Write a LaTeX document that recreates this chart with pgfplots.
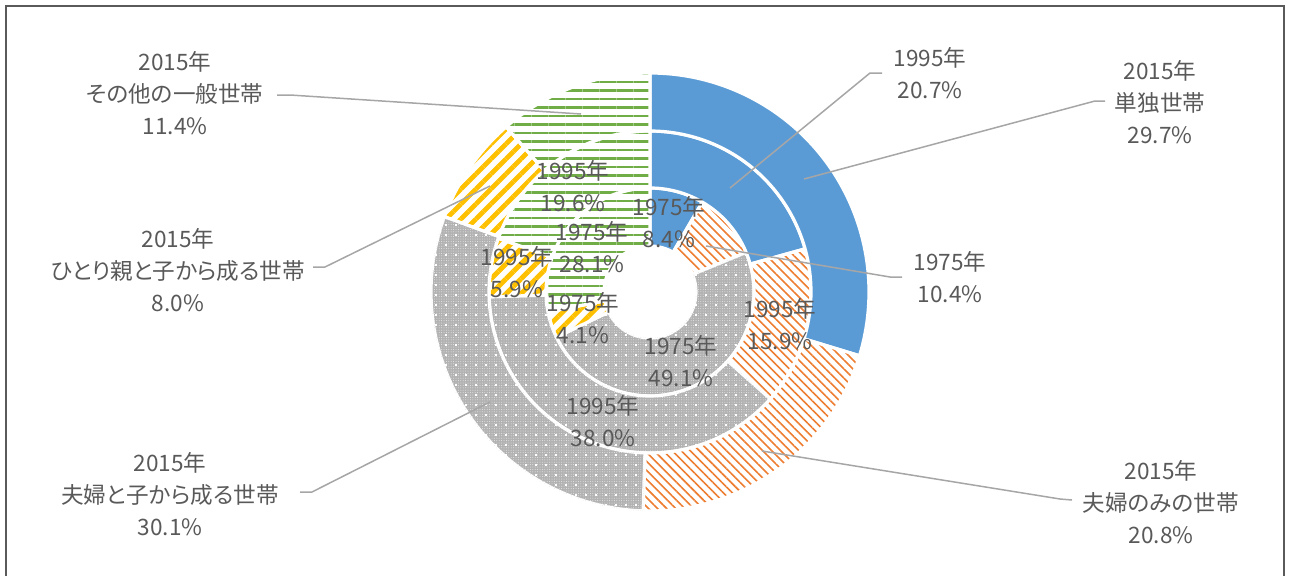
\documentclass[border=0pt]{standalone}
\usepackage{pgfplots}
\pgfplotsset{compat=1.18}
\usepackage{pgfplotstable}
\usepackage{fontspec}
\setmainfont{Noto Sans CJK JP}[CharacterWidth=AlternateProportional]
\usetikzlibrary{patterns.meta}

\definecolor{cblue}{RGB}{91,155,213}
\definecolor{corange}{RGB}{237,125,49}
\definecolor{cgray}{RGB}{178,178,178}
\definecolor{cyellow}{RGB}{255,192,0}
\definecolor{cgreen}{RGB}{112,173,71}
\definecolor{txt}{RGB}{89,89,89}
\definecolor{leader}{RGB}{166,166,166}
\definecolor{frame}{RGB}{90,90,90}

\tikzset{
  s0/.style={fill=cblue},
  s1/.style={pattern={Lines[angle=-45,distance=3.2pt,line width=0.8pt]},pattern color=corange},
  s2/.style={fill=cgray,
    postaction={pattern={Dots[distance=1.2pt,radius=0.25pt]},pattern color=white!70!cgray},
    postaction={pattern={Lines[angle=0,distance=5pt,line width=0.6pt]},pattern color=white,dash pattern=on 1pt off 4pt}},
  s3/.style={pattern={Lines[angle=45,distance=5.3pt,line width=2.4pt]},pattern color=cyellow},
  s4/.style={pattern={Lines[angle=0,distance=4.25pt,line width=1.4pt]},pattern color=cgreen},
  lbl/.style={align=center,text=txt,font=\fontsize{11.3}{16}\selectfont,inner sep=0pt},
  ldr/.style={draw=leader,line width=0.75pt},
}

% shares in %, rows: 単独 / 夫婦のみ / 夫婦と子 / ひとり親と子 / その他
\pgfplotstableread{
row y1975 y1995 y2015
0 8.4 20.7 29.7
1 10.4 15.9 20.8
2 49.1 38.0 30.1
3 4.1 5.9 8.0
4 28.1 19.6 11.4
}\shares

% #1 column, #2 inner radius, #3 outer radius (axis units)
\newcommand\drawring[3]{%
  \xdef\tot{0}%
  \foreach \i in {0,...,4}{%
    \pgfplotstablegetelem{\i}{#1}\of\shares
    \pgfmathsetmacro\tmpS{\tot+\pgfplotsretval}\xdef\tot{\tmpS}}%
  \xdef\cumN{0}%
  \pgfmathsetmacro\rIn{#2*0.5}%
  \pgfmathsetmacro\rOut{#3*0.5}%
  \pgfmathsetmacro\rW{(#3-#2)*0.5}%
  \foreach \i in {0,...,4}{%
    \pgfplotstablegetelem{\i}{#1}\of\shares
    \pgfmathsetmacro\angA{90-(\cumN/\tot)*360}%
    \pgfmathsetmacro\tmpC{\cumN+\pgfplotsretval}%
    \pgfmathsetmacro\angB{90-(\tmpC/\tot)*360}%
    \xdef\cumN{\tmpC}%
    \edef\tmpcmd{\noexpand\path[s\i,draw=white,line width=1.6pt]
      (axis cs:650,283) ++(\angA:\rOut pt)
      arc[start angle=\angA,end angle=\angB,radius=\rOut pt]
      -- ++(\angB:-\rW pt)
      arc[start angle=\angB,end angle=\angA,radius=\rIn pt] -- cycle;}%
    \tmpcmd
  }%
}

\begin{document}
\begin{tikzpicture}
\begin{axis}[
  x=0.5pt, y=0.5pt,
  xmin=0, xmax=1292, ymin=0, ymax=575,
  hide axis, clip=false,
]
\drawring{y1975}{46}{104}
\drawring{y1995}{104}{161}
\drawring{y2015}{161}{219}

% leader lines
\draw[ldr] (axis cs:277,480) -- (axis cs:290,480) -- (axis cs:581,461);
\draw[ldr] (axis cs:882,502) -- (axis cs:870,502) -- (axis cs:730,387);
\draw[ldr] (axis cs:1105,474) -- (axis cs:1095,474) -- (axis cs:804,396);
\draw[ldr] (axis cs:902,298) -- (axis cs:890,298) -- (axis cs:706,329);
\draw[ldr] (axis cs:313,308) -- (axis cs:325,308) -- (axis cs:490,389);
\draw[ldr] (axis cs:300,83) -- (axis cs:312,83) -- (axis cs:490,173);
\draw[ldr] (axis cs:1072,75) -- (axis cs:1060,76) -- (axis cs:762,124);

% outer labels
\node[lbl] at (axis cs:175,482) {2015年\\その他の一般世帯\\11.4\%};
\node[lbl] at (axis cs:930,502) {1995年\\20.7\%};
\node[lbl] at (axis cs:1160,473) {2015年\\単独世帯\\29.7\%};
\node[lbl] at (axis cs:950,298) {1975年\\10.4\%};
\node[lbl] at (axis cs:178,305) {2015年\\ひとり親と子から成る世帯\\8.0\%};
\node[lbl] at (axis cs:170,81) {2015年\\夫婦と子から成る世帯\\30.1\%};
\node[lbl] at (axis cs:1161,73) {2015年\\夫婦のみの世帯\\20.8\%};

% inner labels
\node[lbl] at (axis cs:573,389) {1995年\\19.6\%};
\node[lbl] at (axis cs:592,328) {1975年\\28.1\%};
\node[lbl] at (axis cs:669,353) {1975年\\8.4\%};
\node[lbl] at (axis cs:517,303) {1995年\\5.9\%};
\node[lbl] at (axis cs:583,257) {1975年\\4.1\%};
\node[lbl] at (axis cs:780,251) {1995年\\15.9\%};
\node[lbl] at (axis cs:681,214) {1975年\\49.1\%};
\node[lbl] at (axis cs:603,154) {1995年\\38.0\%};

% chart area border
\draw[frame,line width=1pt] (axis cs:6,-12) rectangle (axis cs:1284,569);
\coordinate (bl) at (axis cs:0,0);
\coordinate (tr) at (axis cs:1292,575);
\end{axis}
\pgfresetboundingbox
\path[use as bounding box] (bl) rectangle (tr);
\end{tikzpicture}
\end{document}
